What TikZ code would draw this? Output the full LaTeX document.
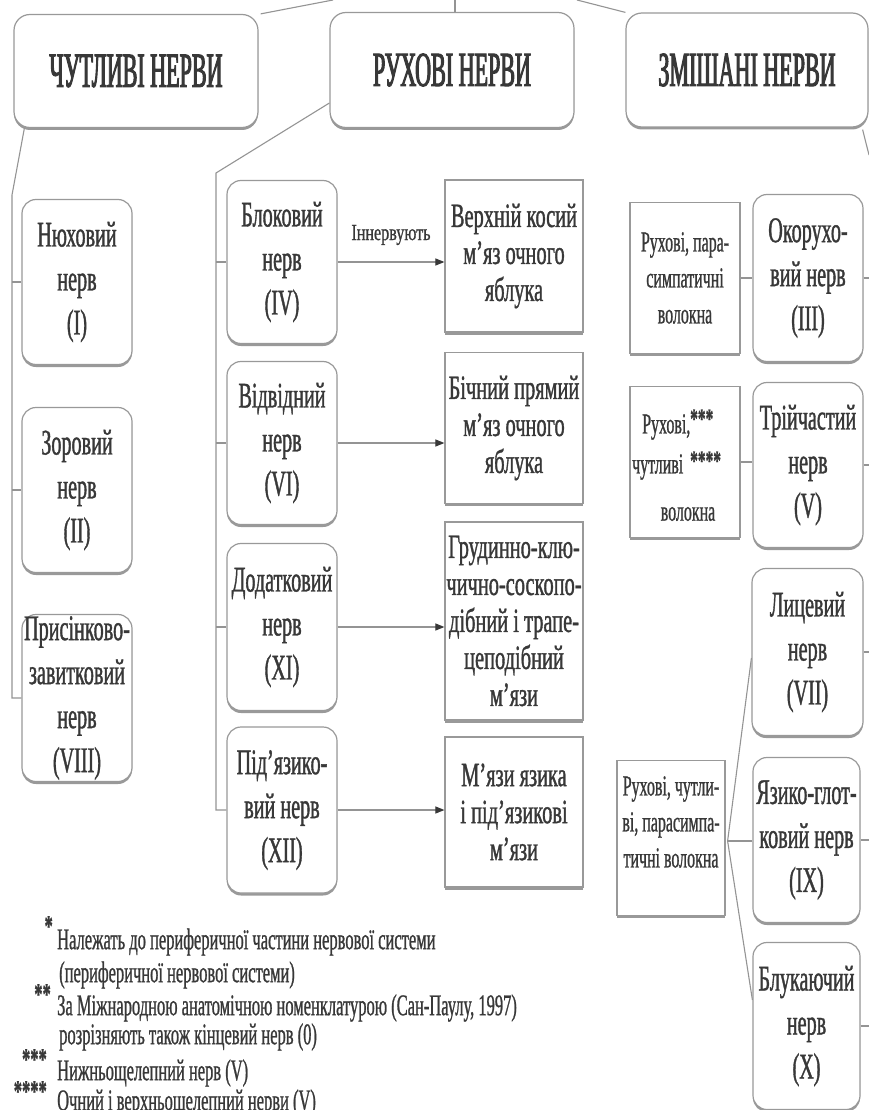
\documentclass[tikz,border=0pt]{standalone}
\usepackage{fontspec}
\setmainfont{Liberation Serif}
\newfontfamily\hdrf{Liberation Serif}[FakeStretch=0.45,FakeBold=2]
\newfontfamily\nrvf{Liberation Serif}[FakeStretch=0.56,FakeBold=1]
\newfontfamily\tgtf{Liberation Serif}[FakeStretch=0.6,FakeBold=1]
\newfontfamily\fibf{Liberation Serif}[FakeStretch=0.55,FakeBold=0.8]
\newfontfamily\notef{Liberation Serif}[FakeStretch=0.55,FakeBold=0.8]
\newfontfamily\lblf{Liberation Serif}[FakeStretch=0.7,FakeBold=0.8]
\usetikzlibrary{arrows.meta,shadows,calc}
\definecolor{ink}{gray}{0.22}
\definecolor{wire}{gray}{0.58}
\definecolor{edge}{gray}{0.6}
\tikzset{
  ln/.style={draw=wire, line width=1.1pt},
  arr/.style={draw=wire, line width=1.1pt, -{Triangle[length=9pt,width=7pt,color=ink,fill=ink]}},
  basebox/.style={draw=edge, fill=white, line width=1.2pt, align=center, inner sep=0pt, text=ink,
     drop shadow={shadow xshift=0pt, shadow yshift=-2.5pt, fill=black, opacity=0.4}},
  hdrbox/.style={basebox, rounded corners=16pt, minimum width=244pt, minimum height=113pt,
     font=\hdrf\fontsize{49pt}{52pt}\selectfont},
  nrvbox/.style={basebox, rounded corners=14pt, minimum width=110pt, minimum height=165pt,
     font=\nrvf\fontsize{36pt}{44pt}\selectfont},
  tgtbox/.style={basebox, minimum width=138pt, minimum height=151pt,
     font=\tgtf\fontsize{34pt}{37pt}\selectfont},
  fibbox/.style={basebox, minimum width=110pt, minimum height=151pt,
     font=\fibf\fontsize{29pt}{36pt}\selectfont},
  fibtxt/.style={inner sep=0pt, text=ink, align=center, font=\fibf\fontsize{29pt}{36pt}\selectfont},
  startxt/.style={inner sep=0pt, text=ink, anchor=base west, font=\fibf\bfseries\fontsize{28pt}{28pt}\selectfont},
  notetxt/.style={inner sep=0pt, text=ink, anchor=west, font=\notef\fontsize{30pt}{33pt}\selectfont},
  notestar/.style={inner sep=0pt, text=ink, anchor=base east, font=\notef\bfseries\fontsize{30pt}{30pt}\selectfont},
}
\begin{document}
\begin{tikzpicture}[x=1pt,y=-1pt]
\useasboundingbox (0,0) rectangle (869,1110);
\fill[white] (0,0) rectangle (869,1110);

% headers
\node[hdrbox] (h1) at (136,71) {ЧУТЛИВІ НЕРВИ};
\node[hdrbox, minimum height=115pt] (h2) at (452,70) {РУХОВІ НЕРВИ};
\node[hdrbox, minimum width=242pt, minimum height=114pt] (h3) at (747,70) {ЗМІШАНІ НЕРВИ};

% lines to the top
\coordinate (top1) at (333,0);
\coordinate (top2) at (455,0);
\coordinate (top3) at (577,0);
\draw[ln] ($(h1.north east)+(2,0)$) -- (top1);
\draw[ln] (top2) -- (top2 |- h2.north);
\draw[ln] (top3) -- ($(h3.north west)+(0,0)$);

% sensory nerves
\node[nrvbox] (n1) at (77,282) {Нюховий\\нерв\\(I)};
\node[nrvbox] (n2) at (77,490) {Зоровий\\нерв\\(II)};
\node[nrvbox, minimum height=167pt] (n3) at (77,698) {Присінково-\\завитковий\\нерв\\(VIII)};
\coordinate (lt) at (12,195);
\draw[ln] ($(h1.south west)+(11,0)$) -- (lt) |- (n3.west);
\draw[ln] (lt |- n1.west) -- (n1.west);
\draw[ln] (lt |- n2.west) -- (n2.west);

% motor nerves
\node[nrvbox, minimum height=163pt] (m1) at (282,262) {Блоковий\\нерв\\(IV)};
\node[nrvbox, minimum height=163pt] (m2) at (282,443) {Відвідний\\нерв\\(VI)};
\node[nrvbox, minimum height=167pt] (m3) at (282,627) {Додатковий\\нерв\\(XI)};
\node[nrvbox, minimum height=166pt] (m4) at (282,810) {Під’язико-\\вий нерв\\(XII)};
\coordinate (mt) at (216,173);
\draw[ln] ($(h2.west)+(0,33)$) -- (mt) |- (m4.west);
\draw[ln] (mt |- m1.west) -- (m1.west);
\draw[ln] (mt |- m2.west) -- (m2.west);
\draw[ln] (mt |- m3.west) -- (m3.west);

% targets
\node[tgtbox, minimum height=152pt] (t1) at (514,256) {Верхній косий\\м’яз очного\\яблука};
\node[tgtbox] (t2) at (514,428) {Бічний прямий\\м’яз очного\\яблука};
\node[tgtbox, minimum height=198pt] (t3) at (514,621) {Грудинно-клю-\\чично-соскопо-\\дібний і трапе-\\цеподібний\\м’язи};
\node[tgtbox, minimum height=150pt] (t4) at (514,812) {М’язи язика\\і під’язикові\\м’язи};
\draw[arr] (m1.east) -- (m1.east -| t1.west);
\draw[arr] (m2.east) -- (m2.east -| t2.west);
\draw[arr] (m3.east) -- (m3.east -| t3.west);
\draw[arr] (m4.east) -- (m4.east -| t4.west);
\node[inner sep=0pt, text=ink, font=\lblf\fontsize{23pt}{23pt}\selectfont] (lbl) at (391,235) {Іннервують};

% mixed nerves
\node[nrvbox, minimum height=167pt] (r1) at (808,278) {Окорухо-\\вий нерв\\(III)};
\node[nrvbox] (r2) at (808,465) {Трійчастий\\нерв\\(V)};
\node[nrvbox, minimum width=111pt, minimum height=167pt] (r3) at (807.5,652) {Лицевий\\нерв\\(VII)};
\node[nrvbox, minimum width=107pt] (r4) at (806.5,840) {Язико-глот-\\ковий нерв\\(IX)};
\node[nrvbox, minimum width=107pt, minimum height=167pt] (r5) at (806.5,1026) {Блукаючий\\нерв\\(X)};

\node[fibbox] (f1) at (685,278) {Рухові, пара-\\симпатичні\\волокна};
\draw[ln] (f1.east) -- (f1.east -| r1.west);

\node[fibbox] (f2) at (685,462) {};
\node[fibtxt, anchor=west] (f2a) at (642,427) {Рухові,};
\node[startxt] (f2s) at (690,428) {***};
\node[fibtxt, anchor=west] (f2b) at (632,467) {чутливі};
\node[startxt] (f2t) at (690,470) {****};
\node[fibtxt] (f2c) at (688,514) {волокна};
\draw[ln] (f2.east) -- (f2.east -| r2.west);

\node[basebox, minimum width=108pt, minimum height=155pt] (f3) at (671,838) {};
\node[fibtxt] (f3t) at (671,822) {Рухові, чутли-\\ві, парасимпа-\\тичні волокна};
\coordinate (fan) at ($(f3.east)+(2,3)$);
\draw[ln] (fan) -- ($(r3.west)+(0,6)$);
\draw[ln] (fan) -- (fan -| r4.west);
\draw[ln] (fan) -- ($(r5.west)+(0,-26)$);

% right-hand connector (cut at the edge)
\coordinate (rt) at (869,155);
\draw[ln] ($(h3.south east)+(-6,2)$) -- (rt);
\foreach \b in {r1,r2,r3,r4,r5} { \draw[ln] (\b.east) -- (\b.east -| rt); }

% footnotes
\node[notestar] (s1) at (53,936) {*};
\node[notetxt] (l1) at (57,942) {Належать до периферичної частини нервової системи};
\node[notetxt] (l2) at (59,975) {(периферичної нервової системи)};
\node[notestar] (s2) at (51,1004) {**};
\node[notetxt] (l3) at (57,1008) {За Міжнародною анатомічною номенклатурою (Сан-Паулу, 1997)};
\node[notetxt] (l4) at (59,1037) {розрізняють також кінцевий нерв (0)};
\node[notestar] (s3) at (47,1069) {***};
\node[notetxt] (l5) at (57,1073) {Нижньощелепний нерв (V)};
\node[notestar] (s4) at (47,1101) {****};
\node[notetxt] (l6) at (57,1103) {Очний і верхньощелепний нерви (V)};
\end{tikzpicture}
\end{document}
